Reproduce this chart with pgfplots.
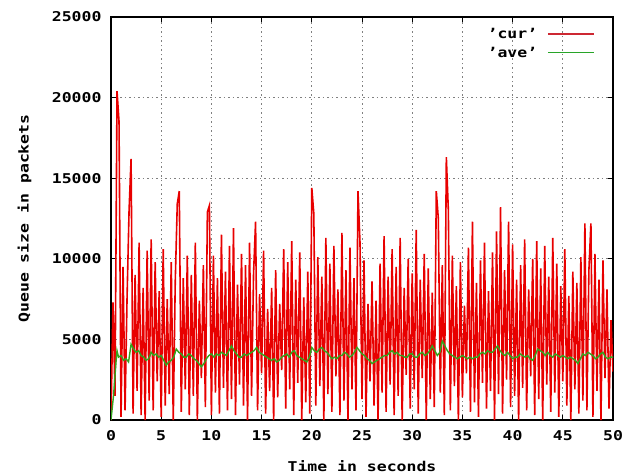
\documentclass[border=0pt]{standalone}
\usepackage{fontspec}
\setmainfont{DejaVu Sans Mono}[FakeStretch=1.22,BoldFont=DejaVu Sans Mono Bold,BoldFeatures={FakeStretch=1.22}]
\usepackage{pgfplots}
\pgfplotsset{compat=1.18}
\definecolor{gpred}{RGB}{232,0,0}
\definecolor{gpgreen}{RGB}{50,165,30}
\definecolor{legred}{RGB}{205,40,50}
\definecolor{leggreen}{RGB}{40,165,40}
\begin{document}
\begin{tikzpicture}
\path[use as bounding box] (-111pt,-54pt) rectangle (520pt,420pt);
\begin{axis}[
  at={(0pt,0pt)}, anchor=south west,
  scale only axis, width=502pt, height=403pt,
  xmin=0, xmax=50, ymin=0, ymax=25000,
  xtick={0,5,...,50}, ytick={0,5000,...,25000},
  scaled y ticks=false,
  /pgf/number format/set thousands separator={},
  /pgf/number format/assume math mode=true,
  tick label style={font=\fontsize{13.5}{14}\selectfont\bfseries},
  label style={font=\fontsize{13.5}{14}\selectfont\bfseries},
  xlabel={Time in seconds}, ylabel={Queue size in packets},
  xlabel style={at={(axis description cs:0.5,-0.114)}, anchor=center},
  ylabel style={at={(axis description cs:-0.172,0.5)}, anchor=center},
  xticklabel style={yshift=-7pt},
  yticklabel style={xshift=-6pt},
  tick align=inside, tick style={black, line width=0.8pt}, major tick length=5pt,
  axis line style={line width=1.2pt},
  grid=major,
  major grid style={black!50, line width=0.7pt, dash pattern=on 1.5pt off 3pt},
  legend style={draw=none, fill=none, at={(0.97,0.983)}, anchor=north east,
    font=\fontsize{13.5}{14}\selectfont\bfseries, row sep=3pt},
  legend cell align=right, legend plot pos=right,
  legend image code/.code={\draw[#1] (0pt,0pt) -- (46pt,0pt);},
]
\addplot[gpred, line width=1.6pt, forget plot] coordinates {
(0.0,0) (0.2,7300) (0.4,1500) (0.6,20400) (0.8,18500) (1.0,200) (1.2,9500) (1.4,600) (1.6,7600) (1.8,13000)
(2.0,16200) (2.2,400) (2.4,9000) (2.6,1800) (2.8,11000) (3.0,300) (3.2,8200) (3.4,0) (3.6,10500) (3.8,1200)
(4.0,11200) (4.2,600) (4.4,9800) (4.6,2400) (4.8,8000) (5.0,200) (5.2,10600) (5.4,900) (5.6,7500) (5.8,1600)
(6.0,9800) (6.2,0) (6.4,8600) (6.6,13400) (6.8,14200) (7.0,500) (7.2,8800) (7.4,1900) (7.6,10200) (7.8,300)
(8.0,9000) (8.2,1500) (8.4,11000) (8.6,0) (8.8,7400) (9.0,2600) (9.2,9600) (9.4,800) (9.6,12900) (9.8,13300)
(10.0,300) (10.2,10200) (10.4,1700) (10.6,8800) (10.8,400) (11.0,11500) (11.2,2000) (11.4,9200) (11.6,600) (11.8,10800)
(12.0,1300) (12.2,11900) (12.4,300) (12.6,8400) (12.8,2200) (13.0,10300) (13.2,900) (13.4,9600) (13.6,0) (13.8,11000)
(14.0,1500) (14.2,9100) (14.4,12300) (14.6,600) (14.8,7800) (15.0,2900) (15.2,10500) (15.4,400) (15.6,6900) (15.8,1800)
(16.0,8200) (16.2,0) (16.4,9300) (16.6,1400) (16.8,7200) (17.0,3100) (17.2,10600) (17.4,700) (17.6,9800) (17.8,1900)
(18.0,11100) (18.2,300) (18.4,8700) (18.6,2300) (18.8,10400) (19.0,0) (19.2,7600) (19.4,1100) (19.6,9200) (19.8,400)
(20.0,14400) (20.2,12800) (20.4,900) (20.6,10100) (20.8,2100) (21.0,8900) (21.2,0) (21.4,11300) (21.6,1600) (21.8,9700)
(22.0,500) (22.2,10800) (22.4,2700) (22.6,8100) (22.8,300) (23.0,11600) (23.2,1200) (23.4,9300) (23.6,0) (23.8,10700)
(24.0,1900) (24.2,8800) (24.4,600) (24.6,14200) (24.8,11000) (25.0,1300) (25.2,9900) (25.4,200) (25.6,7200) (25.8,2400)
(26.0,8600) (26.2,900) (26.4,7400) (26.6,0) (26.8,9700) (27.0,1700) (27.2,11400) (27.4,500) (27.6,8900) (27.8,2200)
(28.0,10600) (28.2,300) (28.4,9500) (28.6,1500) (28.8,11300) (29.0,0) (29.2,8200) (29.4,2800) (29.6,10000) (29.8,700)
(30.0,9100) (30.2,1900) (30.4,11800) (30.6,400) (30.8,8700) (31.0,2600) (31.2,10300) (31.4,0) (31.6,9400) (31.8,1300)
(32.0,7900) (32.2,800) (32.4,14200) (32.6,12500) (32.8,1700) (33.0,9600) (33.2,300) (33.4,16300) (33.6,13000) (33.8,600)
(34.0,10200) (34.2,2100) (34.4,8300) (34.6,0) (34.8,9800) (35.0,1400) (35.2,7100) (35.4,2900) (35.6,10700) (35.8,500)
(36.0,12300) (36.2,1100) (36.4,8500) (36.6,200) (36.8,9900) (37.0,2300) (37.2,11000) (37.4,700) (37.6,8000) (37.8,1800)
(38.0,10400) (38.2,0) (38.4,11700) (38.6,1600) (38.8,13200) (39.0,400) (39.2,9300) (39.4,2500) (39.6,12300) (39.8,800)
(40.0,10900) (40.2,1500) (40.4,8700) (40.6,0) (40.8,9600) (41.0,2000) (41.2,11200) (41.4,600) (41.6,8100) (41.8,2700)
(42.0,10000) (42.2,300) (42.4,11100) (42.6,1300) (42.8,9400) (43.0,0) (43.2,10800) (43.4,2200) (43.6,8900) (43.8,500)
(44.0,11300) (44.2,1700) (44.4,9700) (44.6,200) (44.8,8300) (45.0,2400) (45.2,10600) (45.4,900) (45.6,7700) (45.8,0)
(46.0,9200) (46.2,1900) (46.4,8500) (46.6,400) (46.8,10100) (47.0,1200) (47.2,12200) (47.4,600) (47.6,9300) (47.8,12200)
(48.0,200) (48.2,10300) (48.4,1800) (48.6,8700) (48.8,0) (49.0,9900) (49.2,2600) (49.4,8100) (49.6,700) (49.8,6200)
(50.0,3000)
};
\addplot[gpgreen, line width=1.4pt, forget plot] coordinates {
(0,0) (0.25,1500) (0.5,3600) (0.6,4300) (0.75,3900) (1.0,4000) (1.25,3700) (1.5,3800) (1.75,3600)
(2.0,4700) (2.25,4400) (2.5,4200) (2.75,4300) (3.0,4000) (3.25,3900) (3.5,3700) (3.75,3800)
(4.0,4200) (4.25,4000) (4.5,4100) (4.75,3900) (5.0,4000) (5.25,3700) (5.5,3400) (5.75,3600)
(6.0,3700) (6.25,3900) (6.5,4400) (6.75,4200) (7.0,4100) (7.25,3900) (7.5,3900) (7.75,4100)
(8.0,4000) (8.25,3800) (8.5,3700) (8.75,3500) (9.0,3300) (9.25,3500) (9.5,3800) (9.75,4000)
(10.0,4100) (10.25,3900) (10.5,4100) (10.75,4000) (11.0,4200) (11.25,4100) (11.5,4000) (11.75,4300)
(12.0,4600) (12.25,4300) (12.5,4100) (12.75,3900) (13.0,3900) (13.25,4100) (13.5,4000) (13.75,4100)
(14.0,4200) (14.25,4300) (14.5,4500) (14.75,4200) (15.0,4100) (15.25,4000) (15.5,3900) (15.75,3800)
(16.0,3700) (16.25,3800) (16.5,3600) (16.75,3700) (17.0,3900) (17.25,4000) (17.5,4100) (17.75,3900)
(18.0,4200) (18.25,4300) (18.5,4000) (18.75,3900) (19.0,3800) (19.25,3700) (19.5,3600) (19.75,3900)
(20.0,4500) (20.25,4300) (20.5,4200) (20.75,4400) (21.0,4500) (21.25,4300) (21.5,4200) (21.75,4000)
(22.0,3800) (22.25,3900) (22.5,3800) (22.75,4000) (23.0,4000) (23.25,4200) (23.5,4100) (23.75,3900)
(24.0,4000) (24.25,4200) (24.5,4500) (24.75,4300) (25.0,4100) (25.25,4000) (25.5,3800) (25.75,3700)
(26.0,3500) (26.25,3600) (26.5,3700) (26.75,3800) (27.0,3900) (27.25,4000) (27.5,4000) (27.75,4200)
(28.0,4300) (28.25,4100) (28.5,4200) (28.75,4000) (29.0,4000) (29.25,3900) (29.5,3900) (29.75,4100)
(30.0,4100) (30.25,3900) (30.5,3900) (30.75,4100) (31.0,4200) (31.25,4000) (31.5,4100) (31.75,4300)
(32.0,4600) (32.25,4300) (32.5,4000) (32.75,4200) (33.0,4900) (33.25,4600) (33.5,4300) (33.75,4100)
(34.0,4000) (34.25,3900) (34.5,3800) (34.75,3900) (35.0,4000) (35.25,3900) (35.5,3800) (35.75,3900)
(36.0,3800) (36.25,3900) (36.5,3900) (36.75,4100) (37.0,4200) (37.25,4100) (37.5,4300) (37.75,4200)
(38.0,4200) (38.25,4400) (38.5,4600) (38.75,4300) (39.0,4100) (39.25,4000) (39.5,4200) (39.75,4000)
(40.0,3800) (40.25,3900) (40.5,3900) (40.75,4100) (41.0,4000) (41.25,3900) (41.5,4000) (41.75,3800)
(42.0,3700) (42.25,4000) (42.5,4400) (42.75,4300) (43.0,4200) (43.25,4000) (43.5,4200) (43.75,4000)
(44.0,3900) (44.25,4100) (44.5,4000) (44.75,3900) (45.0,4000) (45.25,3900) (45.5,3800) (45.75,3900)
(46.0,3800) (46.25,3700) (46.5,3500) (46.75,3800) (47.0,4100) (47.25,4000) (47.5,4200) (47.75,4100)
(48.0,4000) (48.25,3800) (48.5,3900) (48.75,4100) (49.0,4200) (49.25,3900) (49.5,3800) (49.75,3900)
(50.0,3900)
};
\addlegendimage{draw=legred, line width=1.5pt}
\addlegendentry{'cur'\rule{8pt}{0pt}}
\addlegendimage{draw=leggreen, line width=1.5pt}
\addlegendentry{'ave'\rule{8pt}{0pt}}
\end{axis}
\end{tikzpicture}
\end{document}
